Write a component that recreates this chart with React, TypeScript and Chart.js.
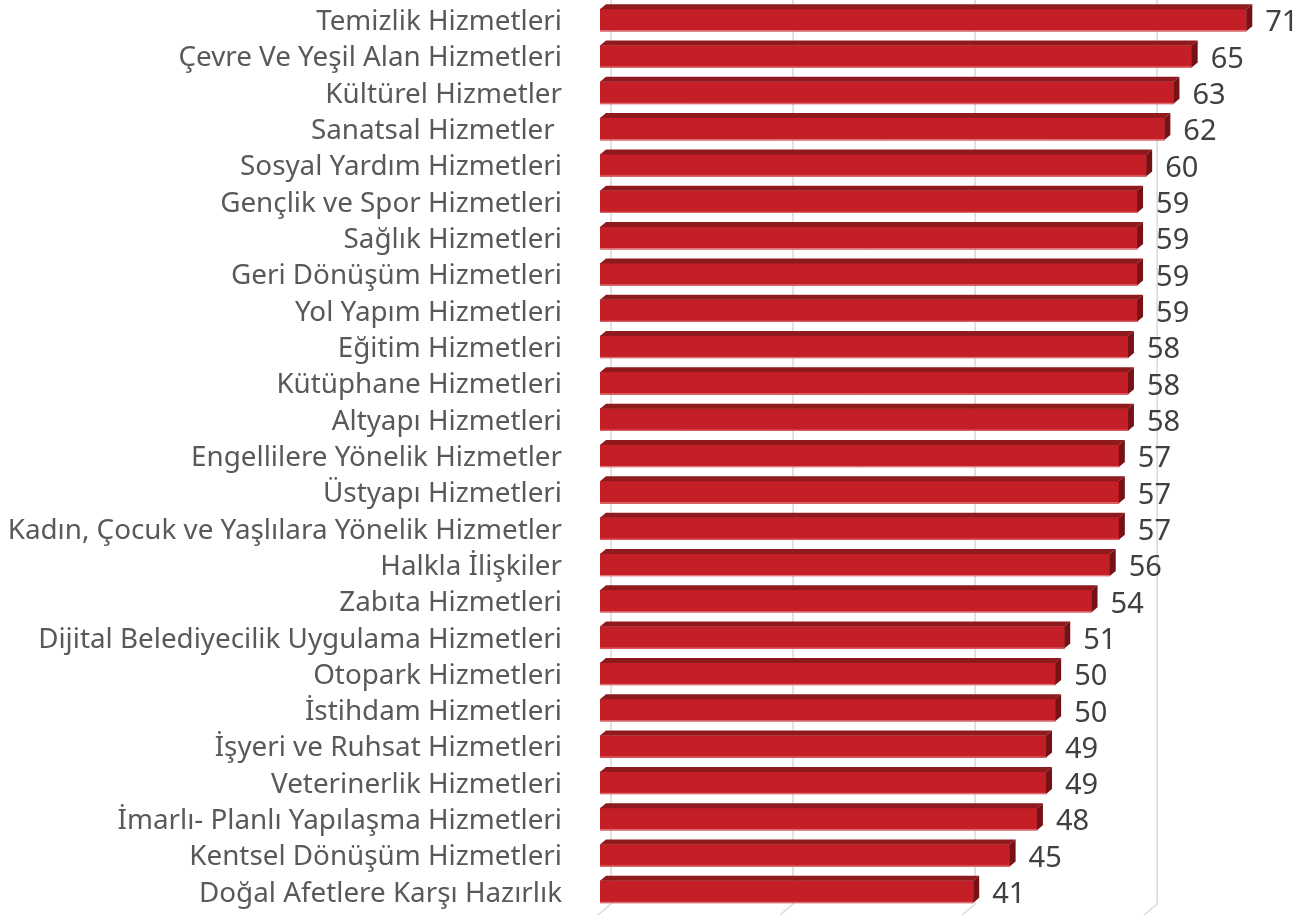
import React, { useEffect, useRef } from "react";
import { Chart, registerables } from "chart.js";

Chart.register(...registerables);

const categories = [
  "Temizlik Hizmetleri",
  "Çevre Ve Yeşil Alan Hizmetleri",
  "Kültürel Hizmetler",
  "Sanatsal Hizmetler ",
  "Sosyal Yardım Hizmetleri",
  "Gençlik ve Spor Hizmetleri",
  "Sağlık Hizmetleri",
  "Geri Dönüşüm Hizmetleri",
  "Yol Yapım Hizmetleri",
  "Eğitim Hizmetleri",
  "Kütüphane Hizmetleri",
  "Altyapı Hizmetleri",
  "Engellilere Yönelik Hizmetler",
  "Üstyapı Hizmetleri",
  "Kadın, Çocuk ve Yaşlılara Yönelik Hizmetler",
  "Halkla İlişkiler",
  "Zabıta Hizmetleri",
  "Dijital Belediyecilik Uygulama Hizmetleri",
  "Otopark Hizmetleri",
  "İstihdam Hizmetleri",
  "İşyeri ve Ruhsat Hizmetleri",
  "Veterinerlik Hizmetleri",
  "İmarlı- Planlı Yapılaşma Hizmetleri",
  "Kentsel Dönüşüm Hizmetleri",
  "Doğal Afetlere Karşı Hazırlık",
];

const values = [71, 65, 63, 62, 60, 59, 59, 59, 59, 58, 58, 58, 57, 57, 57, 56, 54, 51, 50, 50, 49, 49, 48, 45, 41];

const gridTicks = [0, 20, 40, 60];

const FONT = '"Noto Sans", "Open Sans", sans-serif';

const threeDPlugin = {
  id: "threeD",
  beforeDatasetsDraw(chart: any) {
    const { ctx, chartArea, scales } = chart;
    const xs = scales.x;
    ctx.save();
    ctx.strokeStyle = "#D9D9D9";
    ctx.lineWidth = 1.5;
    const backBottom = chartArea.bottom - 6;
    for (const v of gridTicks) {
      const px = xs.getPixelForValue(v) + 11;
      ctx.beginPath();
      ctx.moveTo(px, 0);
      ctx.lineTo(px, backBottom);
      ctx.lineTo(px - 13, backBottom + 11);
      ctx.stroke();
    }
    ctx.restore();
  },
  afterDatasetsDraw(chart: any) {
    const { ctx } = chart;
    const meta = chart.getDatasetMeta(0);
    const dx = 6;
    const dy = -5;
    ctx.save();
    meta.data.forEach((bar: any, i: number) => {
      const { x, y, base, height } = bar.getProps(["x", "y", "base", "height"], true);
      const top = y - height / 2;
      const bottom = y + height / 2;
      // top face
      ctx.fillStyle = "#8E1A1E";
      ctx.beginPath();
      ctx.moveTo(base, top);
      ctx.lineTo(base + dx, top + dy);
      ctx.lineTo(x + dx, top + dy);
      ctx.lineTo(x, top);
      ctx.closePath();
      ctx.fill();
      // right face
      ctx.fillStyle = "#761116";
      ctx.beginPath();
      ctx.moveTo(x, top);
      ctx.lineTo(x + dx, top + dy);
      ctx.lineTo(x + dx, bottom + dy);
      ctx.lineTo(x, bottom);
      ctx.closePath();
      ctx.fill();
      // light bottom edge
      ctx.strokeStyle = "#E27A7D";
      ctx.lineWidth = 1;
      ctx.beginPath();
      ctx.moveTo(base, bottom - 0.5);
      ctx.lineTo(x, bottom - 0.5);
      ctx.stroke();
      // value label
      ctx.fillStyle = "#404040";
      ctx.font = `29px ${FONT}`;
      ctx.textAlign = "left";
      ctx.textBaseline = "middle";
      ctx.fillText(String(values[i]), x + 19, y + 3);
    });
    ctx.restore();
  },
};

export default function App() {
  const ref = useRef<HTMLCanvasElement | null>(null);
  useEffect(() => {
    if (!ref.current) return;
    const chart = new Chart(ref.current, {
      type: "bar",
      data: {
        labels: categories,
        datasets: [
          {
            data: values,
            backgroundColor: "#C41F26",
            borderWidth: 0,
            barThickness: 22,
          },
        ],
      },
      options: {
        indexAxis: "y",
        animation: false,
        responsive: false,
        maintainAspectRatio: false,
        layout: { padding: { left: 0, right: 4, top: 2, bottom: 7 } },
        plugins: {
          legend: { display: false },
          tooltip: { enabled: false },
          title: { display: false },
        },
        scales: {
          x: {
            display: false,
            min: 0,
            max: 78,
          },
          y: {
            grid: { display: false, drawTicks: false },
            border: { display: false },
            ticks: {
              color: "#595959",
              font: { family: FONT, size: 27.8 },
              padding: 38,
              labelOffset: 2,
              autoSkip: false,
            },
            afterFit: (scale: any) => {
              scale.width = 600;
              scale.paddingTop = 0;
              scale.paddingBottom = 0;
            },
          },
        },
      },
      plugins: [threeDPlugin],
    });
    return () => chart.destroy();
  }, []);
  return (
    <div style={{ position: "fixed", left: 0, top: 0, width: 1314, height: 917, background: "#fff" }}>
      <canvas ref={ref} width={1314} height={917} style={{ display: "block" }} />
    </div>
  );
}
